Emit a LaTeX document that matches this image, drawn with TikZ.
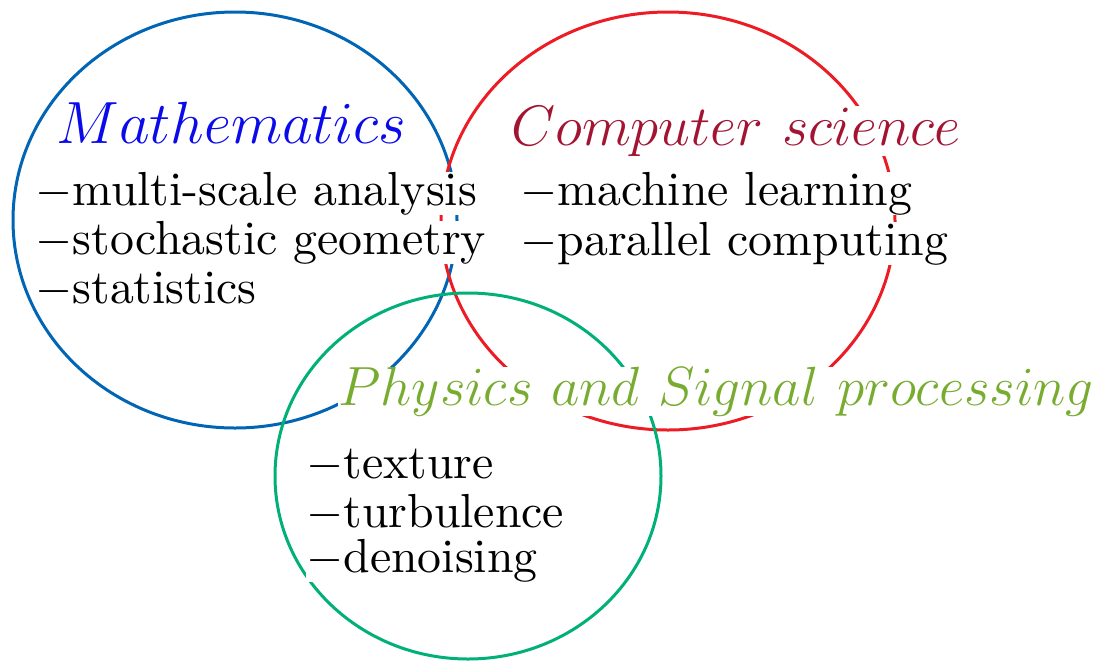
\documentclass[tikz,border=0pt]{standalone}
\usepackage{fontspec}
\setmainfont{lmroman10-regular.otf}
\usepackage{tikz}
% scalable math fonts for the large titles
\DeclareFontShape{OML}{cmm}{m}{it}{<->cmmi12}{}
\DeclareFontShape{OMS}{cmsy}{m}{n}{<->cmsy10}{}
\definecolor{circBlue}{RGB}{0,101,180}
\definecolor{circRed}{RGB}{237,28,36}
\definecolor{circGreen}{RGB}{0,176,120}
\definecolor{mathBlue}{RGB}{10,10,235}
\definecolor{csRed}{RGB}{163,20,50}
\definecolor{physGreen}{RGB}{119,172,48}
\tikzset{
  fieldCirc/.style = {line width=1.5pt},
  fieldTitle/.style = {anchor=base west, inner sep=0pt, fill=white,
    font=\fontsize{28}{32}\selectfont},
  fieldItem/.style = {fieldTitle, text=black, font=\fontsize{23.9}{26}\selectfont}
    % one line of the list, white box hides the circles
}

\begin{document}
\begin{tikzpicture}[x=0.5pt,y=-0.5pt]
\useasboundingbox (0,0) rectangle (1097,660);
\draw[fieldCirc, draw=circBlue] (235,220) ellipse [x radius=222, y radius=208];
\draw[fieldCirc, draw=circRed] (668,221) ellipse [x radius=227, y radius=209];
\draw[fieldCirc, draw=circGreen] (468,476) ellipse [x radius=193, y radius=183];
% mathematics
\node[fieldTitle, text=mathBlue, font=\fontsize{29.8}{34}\selectfont] (math) at (56,143) {$Mathematics$};
\node[fieldItem] (math1) at (35,205) {$-$multi-scale analysis};
\node[fieldItem] (math2) at (35,254) {$-$stochastic geometry};
\node[fieldItem] (math3) at (35,303) {$-$statistics};
% computer science
\node[fieldTitle, text=csRed, font=\fontsize{28.5}{33}\selectfont] (cs) at (511,145) {$Computer\ science$};
\node[fieldItem] (cs1) at (520,205) {$-$machine learning};
\node[fieldItem] (cs2) at (520,255) {$-$parallel computing};
% physics
\node[fieldTitle, text=physGreen, font=\fontsize{27.6}{32}\selectfont] (phys) at (338,405) {$Physics\ and\ Signal\ processing$};
\node[fieldItem] (phys1) at (306,478) {$-$texture};
\node[fieldItem] (phys2) at (306,527) {$-$turbulence};
\node[fieldItem] (phys3) at (306,572) {$-$denoising};
\end{tikzpicture}
\end{document}
